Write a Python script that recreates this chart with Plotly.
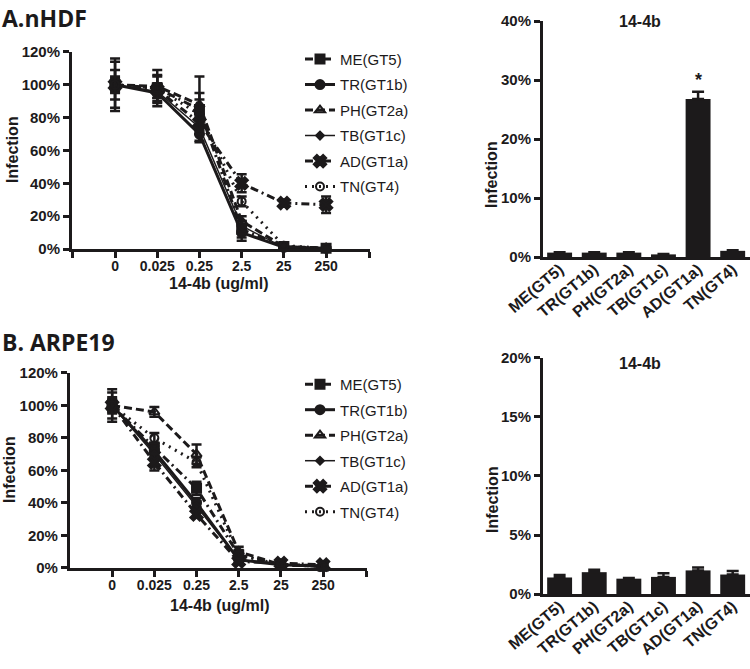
import plotly.graph_objects as go

# ---------------- data ----------------
conc_labels = ["0", "0.025", "0.25", "2.5", "25", "250"]
strains = ["ME(GT5)", "TR(GT1b)", "PH(GT2a)", "TB(GT1c)", "AD(GT1a)", "TN(GT4)"]
line_yticks = [0, 20, 40, 60, 80, 100, 120]
barA_yticks = [0, 10, 20, 30, 40]
barB_yticks = [0, 5, 10, 15, 20]

# Panel A (nHDF) dose-response, % infection
A_ME = [100, 98, 85, 12, 1.5, 0.5]
A_TR = [100, 95, 70, 10, 1, 0.5]
A_PH = [100, 99, 88, 17, 1.5, 0.5]
A_TB = [100, 96, 74, 14, 1, 0.5]
A_AD = [100, 97, 77, 40, 28, 27]
A_TN = [100, 98, 82, 29, 2, 0.5]
A_ME_err = [16, 11, 20, 5, 1, 0.5]
A_TR_err = [4, 5, 4, 5, 0.5, 0.5]
A_PH_err = [14, 7, 7, 3, 0.5, 0.5]
A_TB_err = [3, 4, 4, 3, 0.5, 0.5]
A_AD_err = [9, 8, 5, 5.5, 1, 5]
A_TN_err = [5, 3, 9, 3, 0.5, 0.5]

# Panel B (ARPE19) dose-response, % infection
B_ME = [100, 74, 49, 8, 2, 1]
B_TR = [100, 72, 40, 5, 2, 1]
B_PH = [100, 96, 70, 10, 2, 1.5]
B_TB = [100, 70, 38, 5, 2, 1]
B_AD = [100, 65, 33, 4, 3, 2]
B_TN = [100, 80, 65, 8, 2, 1]
B_ME_err = [10, 3, 4, 3, 1, 1]
B_TR_err = [3, 3, 3, 2, 1, 1]
B_PH_err = [8, 3, 6, 3, 1, 1]
B_TB_err = [3, 3, 3, 2, 1, 1]
B_AD_err = [4, 5, 2, 2, 1, 1]
B_TN_err = [5, 3, 3, 2, 1, 1]

# Bar panels: % infection at top dose
barA = [0.75, 0.75, 0.75, 0.45, 26.8, 1.05]
barA_err = [0.05, 0.05, 0.05, 0.05, 1.2, 0.1]
barB = [1.4, 1.85, 1.3, 1.45, 2.0, 1.65]
barB_err = [0.2, 0.2, 0.05, 0.3, 0.25, 0.3]

# ---------------- styling ----------------
INK = "#1c1a1b"
FONT = "Liberation Sans"
styles = [
    dict(symbol="square", size=9, dash="8px,4px,2px,4px", lw=3),
    dict(symbol="circle", size=9, dash="solid", lw=3),
    dict(symbol="triangle-up-open", size=9, dash="8px,4px", lw=3),
    dict(symbol="diamond", size=6, dash="solid", lw=1.5),
    dict(symbol="x", size=11, dash="8px,4px,2px,4px", lw=3),
    dict(symbol="circle-open", size=8, dash="2px,5px", lw=3),
]

xpos = list(range(len(conc_labels)))
fig = go.Figure()

def add_lines(series, errs, xa, ya, legend):
    for i, (name, vals, err) in enumerate(zip(strains, series, errs)):
        st = styles[i]
        fig.add_trace(go.Scatter(
            x=xpos, y=vals, name=name, mode="lines+markers",
            xaxis=xa, yaxis=ya, legend=legend, legendgroup=legend + name,
            line=dict(color=INK, width=st["lw"], dash=st["dash"]),
            marker=dict(symbol=st["symbol"], size=st["size"], color=INK,
                        line=dict(color=INK, width=2)),
            error_y=dict(type="data", array=err, visible=True, color=INK,
                         thickness=2.5, width=5),
            cliponaxis=False,
        ))

add_lines([A_ME, A_TR, A_PH, A_TB, A_AD, A_TN],
          [A_ME_err, A_TR_err, A_PH_err, A_TB_err, A_AD_err, A_TN_err],
          "x", "y", "legend")
add_lines([B_ME, B_TR, B_PH, B_TB, B_AD, B_TN],
          [B_ME_err, B_TR_err, B_PH_err, B_TB_err, B_AD_err, B_TN_err],
          "x3", "y3", "legend2")

for vals, err, xa, ya in [(barA, barA_err, "x2", "y2"), (barB, barB_err, "x4", "y4")]:
    fig.add_trace(go.Bar(
        x=strains, y=vals, xaxis=xa, yaxis=ya, showlegend=False,
        marker=dict(color=INK, line=dict(width=0)), width=0.72,
        error_y=dict(type="data", array=err, arrayminus=[0] * len(err),
                     symmetric=False, visible=True, color=INK,
                     thickness=2.5, width=6),
    ))

tickfont = dict(family=FONT, size=15, color=INK, weight="bold")
xtickfont = dict(family=FONT, size=14, color=INK, weight="bold")
bartickfont = dict(family=FONT, size=16, color=INK, weight="bold")
axis_common = dict(showline=True, linecolor=INK, linewidth=3, showgrid=False,
                   zeroline=False, ticks="outside", ticklen=6, tickwidth=3,
                   tickcolor=INK, automargin=False)

def pct_ticks(vals):
    return dict(tickmode="array", tickvals=vals, ticktext=[f"{v}%" for v in vals])

line_xticks = dict(tickmode="array", tickvals=[-1.02, 0, 1, 2, 3, 4, 5, 6.03],
                   ticktext=[""] + conc_labels + [""], ticklabelstandoff=-4)
bar_x = dict(type="category", tickangle=-40, tickfont=bartickfont, showline=True,
             linecolor=INK, linewidth=3, showgrid=False, ticks="", automargin=False,
             range=[-0.48, 5.5], ticklabelstandoff=-6)

fig.update_layout(
    width=750, height=669, margin=dict(l=0, r=0, t=0, b=0, autoexpand=False),
    paper_bgcolor="white", plot_bgcolor="white",
    font=dict(family=FONT, color=INK),
    xaxis=dict(domain=[0.096, 0.4933], range=[-1.02, 6.04], anchor="y",
               tickfont=xtickfont, **line_xticks, **axis_common),
    yaxis=dict(domain=[0.6278, 0.9223], range=[0, 120], anchor="x",
               tickfont=tickfont, **pct_ticks(line_yticks), **axis_common),
    xaxis3=dict(domain=[0.0933, 0.4893], range=[-1.0, 6.04], anchor="y3",
                tickfont=xtickfont, **line_xticks, **axis_common),
    yaxis3=dict(domain=[0.1510, 0.4425], range=[0, 120], anchor="x3",
                tickfont=tickfont, **pct_ticks(line_yticks), **axis_common),
    xaxis2=dict(domain=[0.724, 1.0], anchor="y2", **bar_x),
    yaxis2=dict(domain=[0.6158, 0.9686], range=[0, 40], anchor="x2",
                tickfont=tickfont, **pct_ticks(barA_yticks), **axis_common),
    xaxis4=dict(domain=[0.724, 1.0], anchor="y4", **bar_x),
    yaxis4=dict(domain=[0.1121, 0.4649], range=[0, 20], anchor="x4",
                tickfont=tickfont, **pct_ticks(barB_yticks), **axis_common),
    legend=dict(x=0.4, y=0.936, xanchor="left", yanchor="top",
                font=dict(family=FONT, size=15, color=INK),
                tracegroupgap=3, bgcolor="rgba(0,0,0,0)"),
    legend2=dict(x=0.4, y=0.45, xanchor="left", yanchor="top",
                 font=dict(family=FONT, size=15, color=INK),
                 tracegroupgap=3, bgcolor="rgba(0,0,0,0)"),
)

def px_x(px):
    return px / 750

def px_y(px):
    return 1 - px / 669

ann = []
title_font = dict(family="Open Sans", size=23, color=INK, weight="bold")
ann.append(dict(text="A.nHDF", x=px_x(0), y=px_y(0), xanchor="left", yanchor="top",
                font=title_font))
ann.append(dict(text="B. ARPE19", x=px_x(0), y=px_y(342), xanchor="left", yanchor="middle",
                font=title_font))
axt_font = dict(family=FONT, size=16, color=INK, weight="bold")
for (x, y) in [(12, 150), (10, 470), (492, 175), (492, 500)]:
    ann.append(dict(text="Infection", x=px_x(x), y=px_y(y), textangle=-90,
                    xanchor="center", yanchor="middle", font=axt_font))
for (x, y) in [(219, 283), (220, 605)]:
    ann.append(dict(text="14-4b (ug/ml)", x=px_x(x), y=px_y(y),
                    xanchor="center", yanchor="middle", font=axt_font))
for (x, y) in [(640, 22), (640, 363)]:
    ann.append(dict(text="14-4b", x=px_x(x), y=px_y(y),
                    xanchor="center", yanchor="middle",
                    font=dict(family=FONT, size=16, color=INK, weight="bold")))
for a in ann:
    a.update(xref="paper", yref="paper", showarrow=False)
# significance asterisk above the AD bar
ann.append(dict(text="*", x=strains[4], y=barA[4] + barA_err[4], xref="x2", yref="y2",
                yanchor="bottom", yshift=0, showarrow=False,
                font=dict(family=FONT, size=18, color=INK, weight="bold")))
fig.update_layout(annotations=ann)

fig.write_html("out.html", config={"displayModeBar": False},
               post_script="document.body.style.margin='0';")
